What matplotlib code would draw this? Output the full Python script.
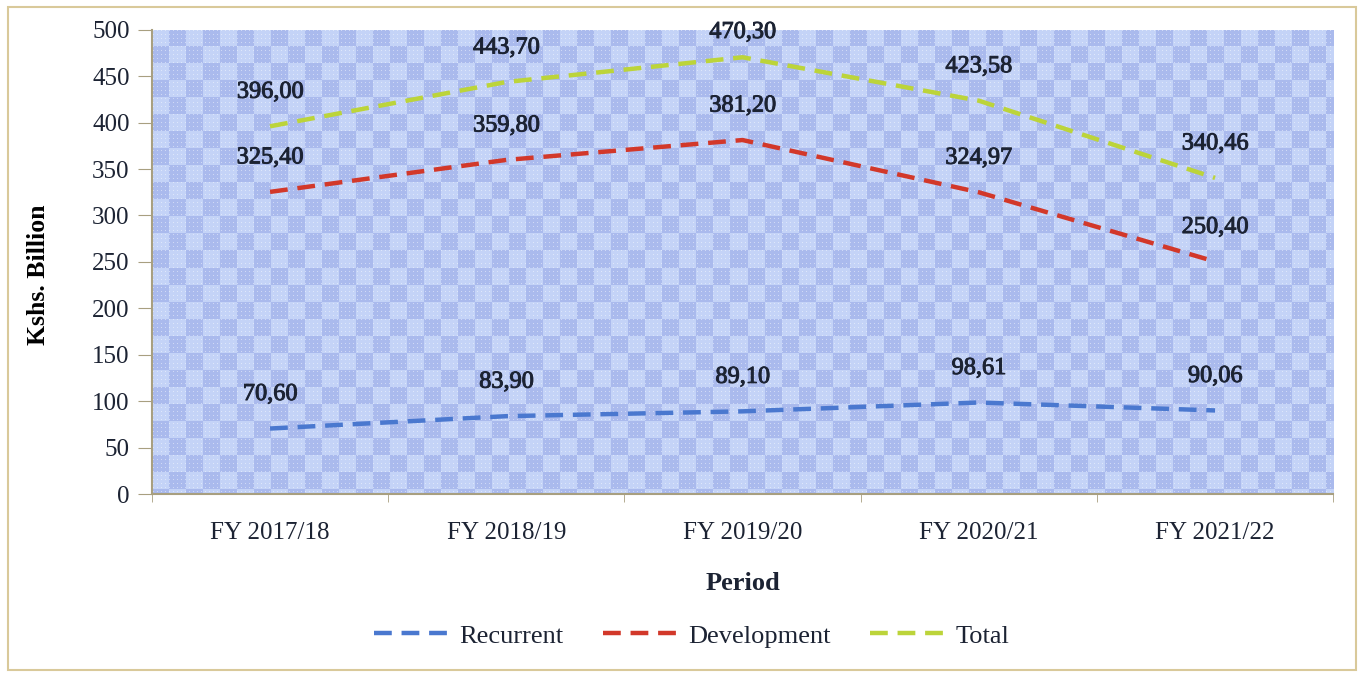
import numpy as np
import matplotlib.pyplot as plt
import matplotlib.patheffects as pe
from matplotlib.patches import Rectangle

periods = ["FY 2017/18", "FY 2018/19", "FY 2019/20", "FY 2020/21", "FY 2021/22"]
recurrent = [70.60, 83.90, 89.10, 98.61, 90.06]
development = [325.40, 359.80, 381.20, 324.97, 250.40]
total = [396.00, 443.70, 470.30, 423.58, 340.46]

plt.rcParams['font.family'] = ['Liberation Serif', 'DejaVu Serif']
txt = '#1c2333'

fig = plt.figure(figsize=(13.64, 6.75), dpi=100)
fig.patches.append(Rectangle((0.006, 0.008), 0.988, 0.982, transform=fig.transFigure,
                             fill=False, edgecolor='#d9c99a', linewidth=1.5))
ax = fig.add_axes([0.1114, 0.268, 0.866, 0.688])

# checkered blue background with fine dot texture (pixel sized)
H, W = 464, 1181
Y, X = np.mgrid[0:H, 0:W]
light = np.array([0.77, 0.83, 0.97])
dark = np.array([0.67, 0.73, 0.93])
chk = ((X // 17 + Y // 17) % 2)[..., None]
bg = np.where(chk == 1, dark, light)
dots = ((X % 4 == 1) & (Y % 4 == 1))[..., None]
bg = np.where(dots, bg * 0.55 + 0.45, bg)
ax.imshow(bg, extent=(-0.5, 4.5, 0, 500), aspect='auto',
          interpolation='nearest', zorder=0)

x = np.arange(len(periods))
series = [(recurrent, '#4a78cf', 'Recurrent'),
          (development, '#d2382a', 'Development'),
          (total, '#bcd43a', 'Total')]
for vals, col, lab in series:
    ax.plot(x, vals, color=col, lw=3.2, dashes=(4.0, 2.2), label=lab, zorder=3)
    for xi, v in zip(x, vals):
        ax.annotate(f"{v:.2f}".replace('.', ','), (xi, min(v + 36.6, 497)),
                    ha='center', va='center', fontsize=17.5, color=txt, zorder=4,
                    path_effects=[pe.withStroke(linewidth=0.7, foreground=txt)])

ax.set_xlim(-0.5, 4.5)
ax.set_ylim(0, 500)
ax.set_yticks(np.arange(0, 501, 50))
ax.set_xticks(x)
ax.set_xticklabels(periods)
ax.set_xticks(np.arange(-0.5, 4.6, 1), minor=True)
ax.tick_params(axis='x', which='major', length=0, pad=20, labelsize=18, labelcolor=txt)
ax.tick_params(axis='x', which='minor', length=6, color='#a89f80')
ax.tick_params(axis='y', length=10, color='#a89f80', labelsize=18, labelcolor=txt, pad=6)
for s in ['top', 'right']:
    ax.spines[s].set_visible(False)
for s in ['left', 'bottom']:
    ax.spines[s].set_color('#a89f80')
    ax.spines[s].set_linewidth(1.5)

ax.set_ylabel('Kshs. Billion', fontsize=18.5, fontweight='bold', color='black')
ax.yaxis.set_label_coords(-0.086, 0.472)
ax.set_xlabel('Period', fontsize=19, fontweight='bold', color=txt, labelpad=20)

fig.legend(loc='center', bbox_to_anchor=(0.507, 0.058), ncol=3, frameon=False,
           fontsize=19, handlelength=2.85, columnspacing=1.5, handletextpad=0.38,
           labelcolor=txt)

fig.savefig('out.png', dpi=100)
